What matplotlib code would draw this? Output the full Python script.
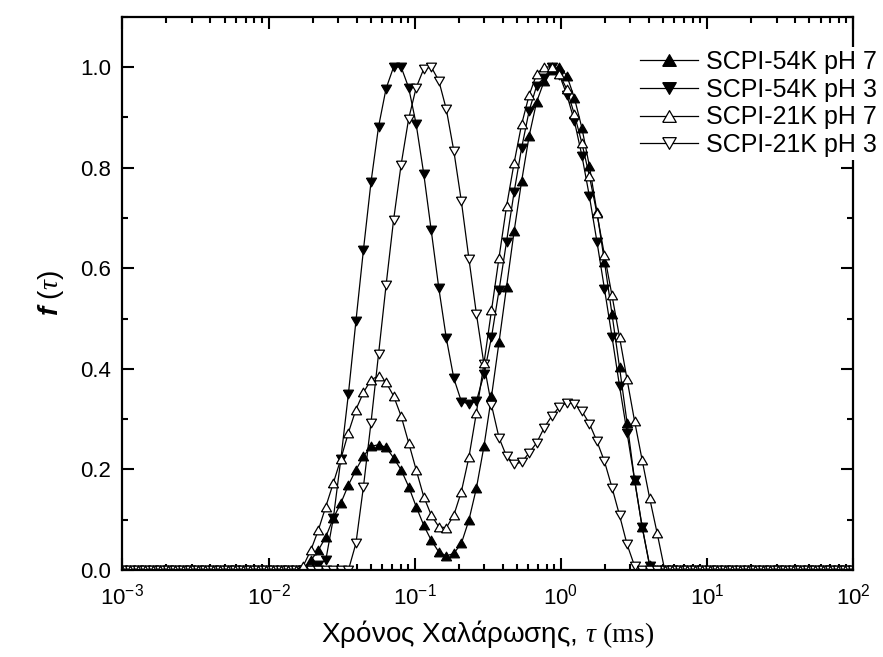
#!/usr/bin/env python3
"""Relaxation-time distributions f(tau) for the SCPI samples (semi-log plot)."""
import numpy as np
import matplotlib
matplotlib.use("Agg")
import matplotlib.pyplot as plt
from matplotlib.ticker import LogLocator, MultipleLocator, FormatStrFormatter, NullFormatter

plt.rcParams["font.family"] = ["Liberation Sans", "DejaVu Sans"]
plt.rcParams["mathtext.fontset"] = "custom"
plt.rcParams["mathtext.rm"] = "Liberation Serif"
plt.rcParams["mathtext.it"] = "Liberation Serif:italic"
plt.rcParams["mathtext.bfit"] = "Liberation Sans:italic:bold"

# relaxation time grid (ms), log-spaced
tau = np.logspace(-3, 2, 98)

# SCPI-54K pH 7
f_54k_ph7 = ([0.0] * 25 +
             [0.019, 0.039, 0.066, 0.103, 0.133, 0.169, 0.199, 0.226, 0.246, 0.249,
              0.244, 0.223, 0.199, 0.166, 0.126, 0.089, 0.059, 0.036, 0.028, 0.033,
              0.053, 0.099, 0.163, 0.246, 0.345, 0.453, 0.563, 0.673, 0.773, 0.863,
              0.931, 0.972, 0.995, 1.000, 0.983, 0.939, 0.879, 0.803, 0.712, 0.613,
              0.509, 0.403, 0.293, 0.179, 0.086, 0.010] +
             [0.0] * 27)

# SCPI-54K pH 3
f_54k_ph3 = ([0.0] * 26 +
             [0.010, 0.020, 0.103, 0.221, 0.350, 0.495, 0.637, 0.771, 0.881, 0.957,
              1.000, 1.000, 0.959, 0.886, 0.788, 0.675, 0.561, 0.461, 0.381, 0.335,
              0.330, 0.336, 0.389, 0.463, 0.556, 0.653, 0.751, 0.839, 0.913, 0.963,
              0.979, 1.000, 0.985, 0.945, 0.893, 0.824, 0.743, 0.653, 0.559, 0.464,
              0.366, 0.273, 0.179, 0.086, 0.008] +
             [0.0] * 27)

# SCPI-21K pH 7
f_21k_ph7 = ([0.0] * 24 +
             [0.008, 0.039, 0.079, 0.126, 0.173, 0.221, 0.273, 0.319, 0.353, 0.378,
              0.386, 0.373, 0.346, 0.306, 0.253, 0.199, 0.146, 0.109, 0.086, 0.084,
              0.109, 0.156, 0.224, 0.313, 0.411, 0.516, 0.621, 0.723, 0.809, 0.886,
              0.944, 0.986, 1.000, 1.000, 0.986, 0.956, 0.906, 0.849, 0.783, 0.709,
              0.626, 0.546, 0.463, 0.379, 0.296, 0.219, 0.143, 0.073] +
             [0.0] * 26)

# SCPI-21K pH 3
f_21k_ph3 = ([0.0] * 31 +
             [0.053, 0.166, 0.293, 0.429, 0.566, 0.696, 0.806, 0.897, 0.959, 0.996,
              1.000, 0.973, 0.916, 0.833, 0.733, 0.619, 0.509, 0.409, 0.328, 0.263,
              0.226, 0.211, 0.214, 0.233, 0.253, 0.283, 0.306, 0.324, 0.333, 0.331,
              0.316, 0.291, 0.256, 0.216, 0.164, 0.109, 0.051, 0.008] +
             [0.0] * 29)

labels = ["SCPI-54K pH 7", "SCPI-54K pH 3", "SCPI-21K pH 7", "SCPI-21K pH 3"]

# Origin-style equilateral triangles
TRI_UP = [(-1, -0.866), (1, -0.866), (0, 0.866), (-1, -0.866)]
TRI_DN = [(-1, 0.866), (1, 0.866), (0, -0.866), (-1, 0.866)]

styles = [
    dict(marker=TRI_UP, mfc="black"),
    dict(marker=TRI_DN, mfc="black"),
    dict(marker=TRI_UP, mfc="white"),
    dict(marker=TRI_DN, mfc="white"),
]
series = [f_54k_ph7, f_54k_ph3, f_21k_ph7, f_21k_ph3]

fig = plt.figure(figsize=(8.83, 6.57), dpi=100)
ax = fig.add_axes([0.1387, 0.1324, 0.8273, 0.8422])

handles = [None] * 4
for i in (0, 1, 3, 2):
    h, = ax.plot(tau, series[i], color="black", lw=0.9, ms=7.2, mec="black",
                 mew=0.9, label=labels[i], **styles[i])
    handles[i] = h

ax.set_xscale("log")
ax.set_xlim(1e-3, 1e2)
ax.set_ylim(0, 1.1)

ax.xaxis.set_major_locator(LogLocator(base=10, numticks=10))
ax.xaxis.set_minor_locator(LogLocator(base=10, subs=np.arange(2, 10), numticks=20))
ax.xaxis.set_minor_formatter(NullFormatter())
ax.yaxis.set_major_locator(MultipleLocator(0.2))
ax.yaxis.set_minor_locator(MultipleLocator(0.1))
ax.yaxis.set_major_formatter(FormatStrFormatter("%.1f"))

ax.tick_params(which="both", direction="in", top=True, right=True, width=1.5)
ax.tick_params(which="major", length=8.5, labelsize=16)
ax.tick_params(axis="x", which="major", pad=10)
ax.tick_params(axis="y", which="major", pad=8)
ax.tick_params(which="minor", length=4.5)
for sp in ax.spines.values():
    sp.set_linewidth(1.6)

ax.set_xlabel(r"Χρόνος Χαλάρωσης, $\tau$ $\mathrm{(ms)}$", fontsize=20, labelpad=6)
ax.set_ylabel(r"$\mathbfit{f}$ ($\tau$)", fontsize=20, labelpad=10)

leg = ax.legend(handles=handles, labels=labels, loc="upper left",
                bbox_to_anchor=(0.7220, 0.9280), bbox_transform=fig.transFigure,
                fontsize=18, frameon=True, facecolor="white", edgecolor="none",
                framealpha=1, fancybox=False, borderpad=0.1, borderaxespad=0,
                handlelength=2.3, handletextpad=0.35, labelspacing=0.15,
                markerscale=1.35, numpoints=1)

fig.savefig("out.png", dpi=100)
